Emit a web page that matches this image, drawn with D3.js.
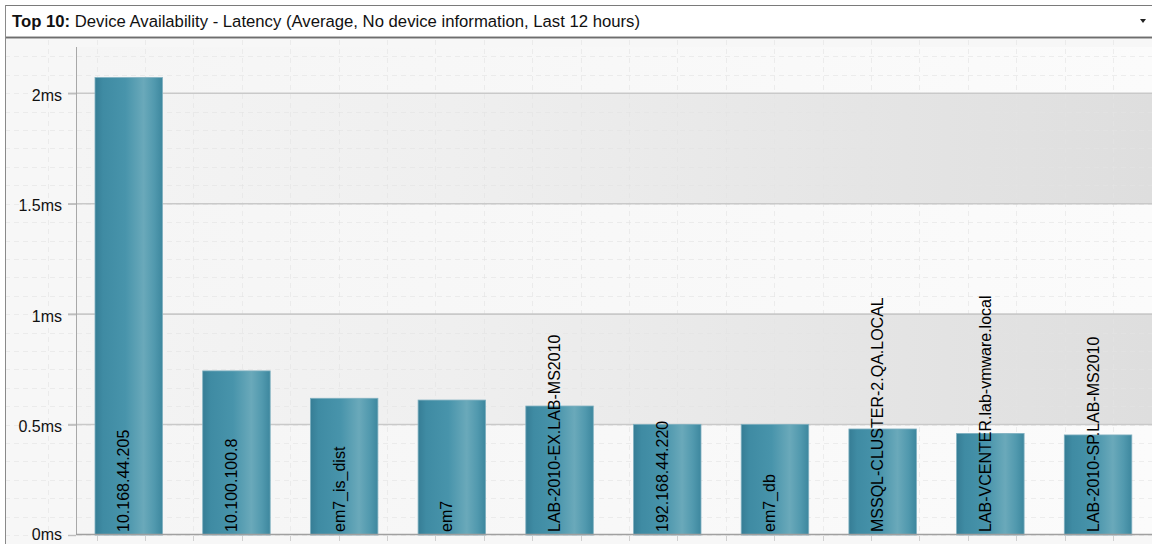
<!DOCTYPE html>
<html>
<head>
<meta charset="utf-8">
<script src="https://cdn.jsdelivr.net/npm/d3@7"></script>
<style>
  html, body { margin: 0; padding: 0; background: #ffffff; }
  svg { display: block; font-family: "Liberation Sans", Arial, sans-serif; }
</style>
</head>
<body>
<svg id="chart" width="1152" height="544"></svg>
<script>
// ---- data ----
const devices = [
  "10.168.44.205",
  "10.100.100.8",
  "em7_is_dist",
  "em7",
  "LAB-2010-EX.LAB-MS2010",
  "192.168.44.220",
  "em7_db",
  "MSSQL-CLUSTER-2.QA.LOCAL",
  "LAB-VCENTER.lab-vmware.local",
  "LAB-2010-SP.LAB-MS2010"
];
const latencyMs = [2.071, 0.743, 0.619, 0.611, 0.584, 0.501, 0.501, 0.480, 0.460, 0.453];
const yTicks = [0, 0.5, 1, 1.5, 2];
const yTickLabels = ["0ms", "0.5ms", "1ms", "1.5ms", "2ms"];
const titleBold = "Top 10:";
const titleRest = " Device Availability - Latency (Average, No device information, Last 12 hours)";

// ---- layout ----
const W = 1152, H = 544;
const svg = d3.select("#chart");
const plotLeft = 76, plotRight = 1152, plotTop = 47;
const y = d3.scaleLinear().domain([0, 2.21]).range([535, 46.9]);
const x = d3.scaleBand().domain(devices).range([76, 1150.8]).paddingInner(0.3733).paddingOuter(0.1764);

const defs = svg.append("defs");
const barGrad = defs.append("linearGradient").attr("id", "barGrad").attr("x1", "0%").attr("x2", "100%").attr("y1", "0%").attr("y2", "0%");
[["0%", "#367d95"], ["12%", "#3f8ba3"], ["45%", "#4894ab"], ["72%", "#6aa9ba"], ["88%", "#5199ae"], ["100%", "#3d879e"]]
  .forEach(([o, c]) => barGrad.append("stop").attr("offset", o).attr("stop-color", c));
const bandGrad = defs.append("linearGradient").attr("id", "bandGrad").attr("x1", "0%").attr("x2", "100%");
[["0%", "#f4f4f4"], ["35%", "#efefef"], ["100%", "#dedede"]]
  .forEach(([o, c]) => bandGrad.append("stop").attr("offset", o).attr("stop-color", c));
const plotGrad = defs.append("linearGradient").attr("id", "plotGrad").attr("x1", "0%").attr("x2", "100%");
[["0%", "#f5f5f5"], ["100%", "#fbfbfb"]]
  .forEach(([o, c]) => plotGrad.append("stop").attr("offset", o).attr("stop-color", c));

// page / chart background
svg.append("rect").attr("x", 0).attr("y", 0).attr("width", W).attr("height", H).attr("fill", "#ffffff");
svg.append("rect").attr("x", 5).attr("y", 39).attr("width", W - 5).attr("height", H - 39).attr("fill", "#f7f7f7");

// plot background
svg.append("rect").attr("x", plotLeft).attr("y", plotTop).attr("width", plotRight - plotLeft).attr("height", y(0) - plotTop)
  .attr("fill", "url(#plotGrad)");
// alternate bands
const bands = [[0.5, 1], [1.5, 2]];
svg.append("g").selectAll("rect").data(bands).join("rect")
  .attr("x", plotLeft).attr("width", plotRight - plotLeft)
  .attr("y", d => y(d[1])).attr("height", d => y(d[0]) - y(d[1]))
  .attr("fill", "url(#bandGrad)");

// faint dashed minor grid (decorative)
const minorY = d3.range(0, 2.3, 0.5 / 6);
const gx = d3.scaleLinear().domain([0, 23]).range([48.2, 48.2 + 23 * 48.4]);
const minorX = d3.range(0, 23);
const minor = svg.append("g").attr("stroke", "#e4e4e4").attr("stroke-width", 1).attr("stroke-dasharray", "5,4");
minor.selectAll("line.h").data(minorY).join("line").attr("class", "h")
  .attr("x1", 5).attr("x2", W).attr("y1", d => Math.round(y(d)) + 0.5).attr("y2", d => Math.round(y(d)) + 0.5)
  .attr("opacity", 0.6);
minor.selectAll("line.v").data(minorX).join("line").attr("class", "v")
  .attr("x1", d => Math.round(gx(d)) + 0.5).attr("x2", d => Math.round(gx(d)) + 0.5)
  .attr("y1", 40).attr("y2", y(0))
  .attr("opacity", 0.6);

// major gridlines at ticks
svg.append("g").selectAll("line").data(yTicks.filter(d => d > 0)).join("line")
  .attr("x1", 68).attr("x2", W).attr("y1", d => y(d)).attr("y2", d => y(d))
  .attr("stroke", "#c9c9c9").attr("stroke-width", 1.6);

// bars
svg.append("g").selectAll("rect").data(latencyMs).join("rect")
  .attr("x", (d, i) => x(devices[i]))
  .attr("width", x.bandwidth())
  .attr("y", d => y(d))
  .attr("height", d => y(0) - y(d))
  .attr("fill", "url(#barGrad)")
  .attr("stroke", "#7fb0c0").attr("stroke-width", 0.8);

// y axis
const yAxis = d3.axisLeft(y).tickValues(yTicks).tickFormat((d, i) => yTickLabels[i]).tickSize(8).tickPadding(6);
const yG = svg.append("g").attr("transform", `translate(${plotLeft},0)`).call(yAxis);
yG.select(".domain").attr("stroke", "#a8a8a8").attr("d", `M0.5,${plotTop}V${y(0)}`);
yG.selectAll(".tick line").attr("stroke", "#bdbdbd").attr("stroke-width", 1.4);
yG.selectAll(".tick text").attr("font-size", 16).attr("fill", "#111")
  .attr("dy", d => d === 0 ? "0.3em" : "0.45em")
  .attr("font-family", "Liberation Sans, Arial, sans-serif");

// x axis base line + minor ticks
svg.append("line").attr("x1", plotLeft).attr("x2", W).attr("y1", y(0) - 0.5).attr("y2", y(0) - 0.5)
  .attr("stroke", "#a0a0a0").attr("stroke-width", 1.5);
svg.append("g").selectAll("line").data(minorX.filter(d => gx(d) > plotLeft)).join("line")
  .attr("x1", d => Math.round(gx(d)) + 0.5).attr("x2", d => Math.round(gx(d)) + 0.5)
  .attr("y1", y(0) + 1).attr("y2", y(0) + 6).attr("stroke", "#d0d0d0");

// bar labels (rotated, inside bars)
svg.append("g").selectAll("text").data(devices).join("text")
  .attr("transform", d => `translate(${x(d) + x.bandwidth() / 2 + 0.5},${y(0) - 3}) rotate(-90)`)
  .attr("text-anchor", "start")
  .attr("font-size", 16)
  .attr("fill", "#000")
  .text(d => d);

// title bar
svg.append("rect").attr("x", 5.5).attr("y", 5.5).attr("width", W).attr("height", 31.5)
  .attr("fill", "#ffffff").attr("stroke", "#7a7a7a").attr("stroke-width", 1);
svg.append("line").attr("x1", 5).attr("x2", W).attr("y1", 37.5).attr("y2", 37.5).attr("stroke", "#6e6e6e").attr("stroke-width", 1.2);
svg.append("line").attr("x1", 5).attr("x2", W).attr("y1", 38.5).attr("y2", 38.5).attr("stroke", "#b8b8b8").attr("stroke-width", 1);
svg.append("line").attr("x1", 5.5).attr("x2", 5.5).attr("y1", 5).attr("y2", H).attr("stroke", "#8a8a8a");
const title = svg.append("text").attr("x", 12).attr("y", 27).attr("font-size", 16.7).attr("fill", "#111");
title.append("tspan").attr("font-weight", "bold").text(titleBold);
title.append("tspan").text(titleRest);
// dropdown arrow
svg.append("path").attr("d", d3.line()([[1140, 19], [1146, 19], [1143, 23]]) + "Z").attr("fill", "#222");
</script>
</body>
</html>
